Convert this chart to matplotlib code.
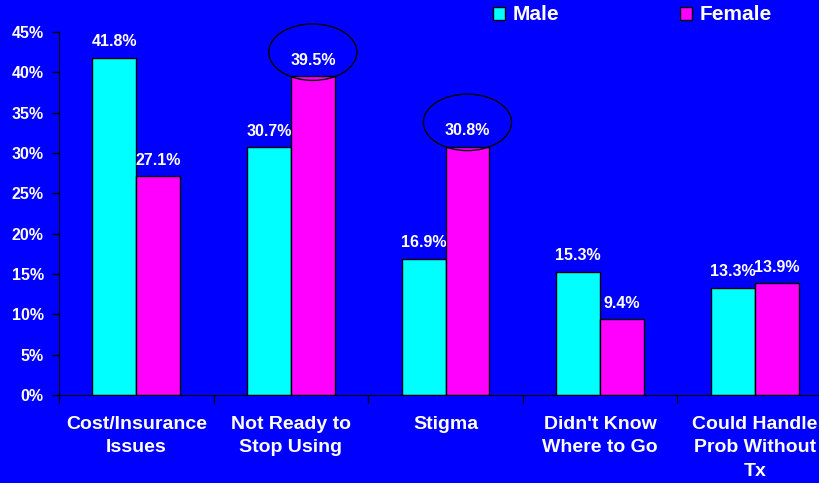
import numpy as np
import matplotlib.pyplot as plt
from matplotlib.patches import Ellipse, Patch

# data
categories = ['Cost/Insurance\nIssues', 'Not Ready to\nStop Using', 'Stigma',
              "Didn't Know\nWhere to Go", 'Could Handle\nProb Without\nTx']
male = [41.8, 30.7, 16.9, 15.3, 13.3]
female = [27.1, 39.5, 30.8, 9.4, 13.9]
circled = [1, 2]  # female bars that are circled

blue = '#0000FF'
cyan = '#00FFFF'
magenta = '#FF00FF'

plt.rcParams['font.family'] = ['Liberation Sans', 'DejaVu Sans']
plt.rcParams['font.weight'] = 'bold'

fig = plt.figure(figsize=(8.2, 4.83), dpi=100, facecolor=blue)
ax = fig.add_axes([59 / 820, 88 / 483, 773 / 820, 363 / 483])
ax.set_facecolor(blue)

x = np.arange(len(categories))
w = 0.284
b1 = ax.bar(x - w / 2, male, w, color=cyan, edgecolor='black', linewidth=1, label='Male')
b2 = ax.bar(x + w / 2, female, w, color=magenta, edgecolor='black', linewidth=1, label='Female')

for bars, vals in [(b1, male), (b2, female)]:
    for r, v in zip(bars, vals):
        ax.annotate('{:.1f}%'.format(v), (r.get_x() + r.get_width() / 2, v),
                    xytext=(0, 6), textcoords='offset points', ha='center', va='bottom',
                    color='white', fontsize=11.5, fontweight='bold')

for i in circled:
    ax.add_patch(Ellipse((x[i] + w / 2, female[i] + 3.0), 0.57, 7.0,
                         fill=False, edgecolor='black', linewidth=1, clip_on=False))

ax.set_xlim(-0.5, 4.5)
ax.set_ylim(0, 45)
ax.set_yticks(np.arange(0, 46, 5))
ax.set_yticklabels(['{}%'.format(t) for t in range(0, 46, 5)])
ax.set_xticks(np.arange(-0.5, 5, 1))
ax.set_xticklabels([])
ax.set_xticks(x, minor=True)
ax.set_xticklabels(categories, minor=True)
ax.tick_params(axis='x', which='minor', length=0, pad=15, labelsize=14, colors='white')
ax.tick_params(axis='x', which='major', length=6, width=1, color='black', direction='out')
ax.tick_params(axis='y', length=5, width=1, color='black', pad=6, labelsize=11.5, labelcolor='white')
for lbl in ax.get_xticklabels(minor=True):
    lbl.set_fontweight('bold')
    lbl.set_linespacing(1.5)
for lbl in ax.get_yticklabels():
    lbl.set_fontweight('bold')

for s in ['top', 'right']:
    ax.spines[s].set_visible(False)
ax.spines['left'].set_color('black')
ax.spines['bottom'].set_color('black')

handles = [Patch(facecolor=cyan, edgecolor='black', label='Male'),
           Patch(facecolor=magenta, edgecolor='black', label='Female')]
leg = fig.legend(handles=handles, loc='center left', bbox_to_anchor=(474 / 820, 1 - 15 / 483),
                 ncol=2, frameon=False, handlelength=0.6, handleheight=0.6,
                 handletextpad=0.35, columnspacing=5.8, labelcolor='white',
                 prop={'weight': 'bold', 'size': 15})

fig.savefig('out.png', dpi=100, facecolor=blue)
